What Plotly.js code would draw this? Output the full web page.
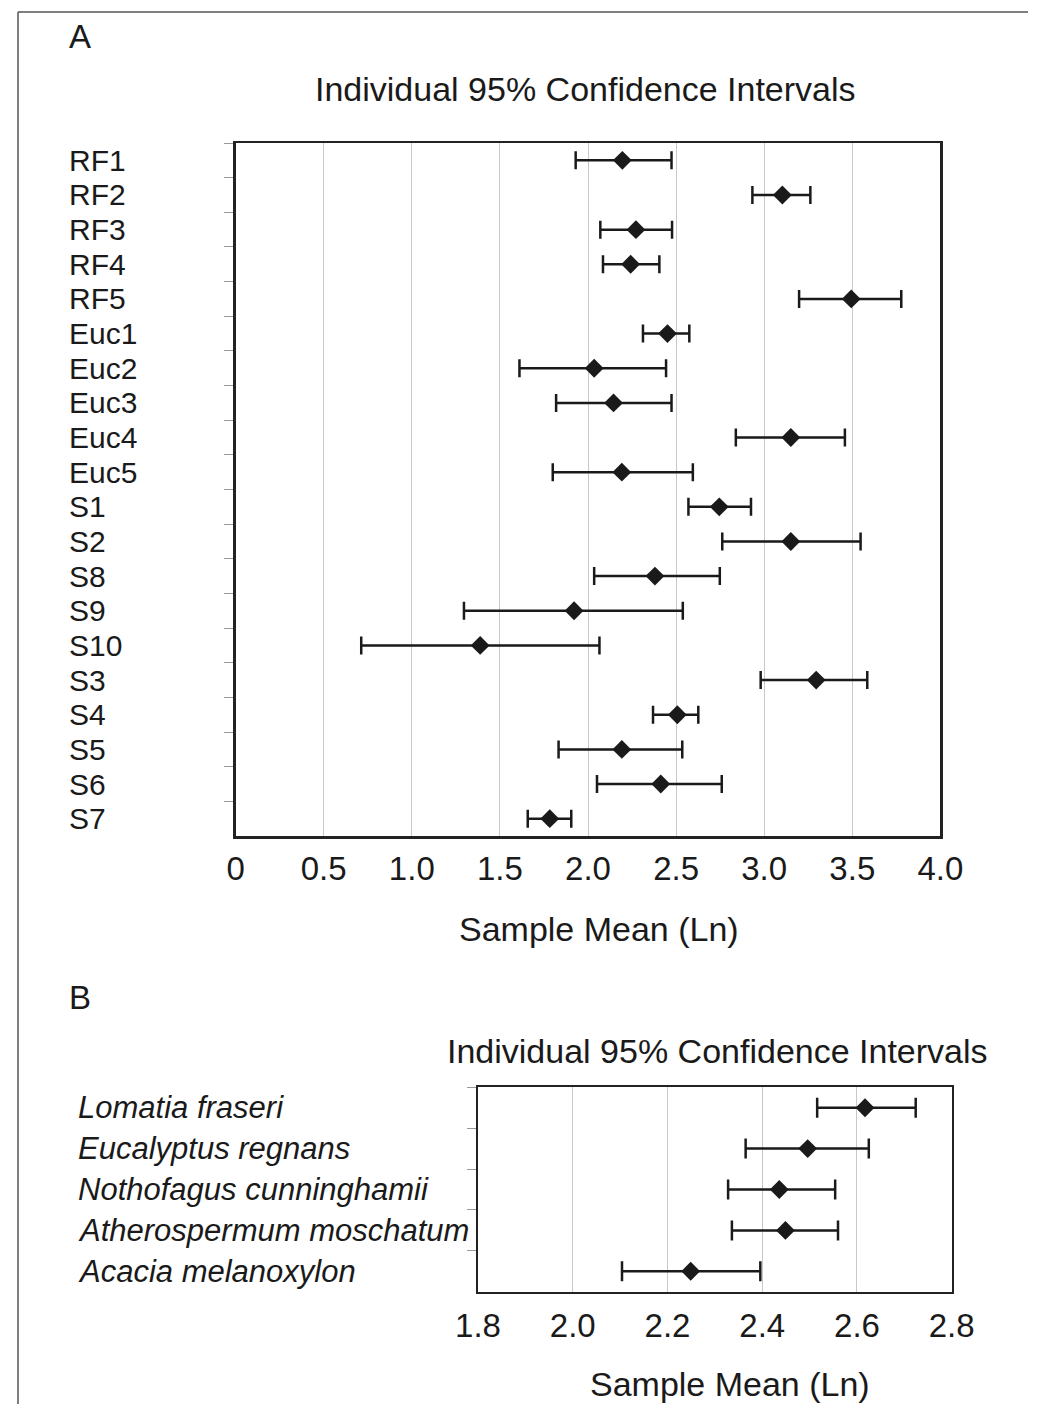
<!DOCTYPE html>
<html>
<head>
<meta charset="utf-8">
<script src="https://cdn.plot.ly/plotly-3.0.1.min.js"></script>
<style>html,body{margin:0;padding:0;background:#fff;}#chart{width:1041px;height:1404px;}</style>
</head>
<body>
<div id="chart"></div>
<script>
// Panel A data
const sitesA = ["RF1","RF2","RF3","RF4","RF5","Euc1","Euc2","Euc3","Euc4","Euc5","S1","S2","S8","S9","S10","S3","S4","S5","S6","S7"];
const lowerA = [1.930,2.933,2.070,2.085,3.198,2.312,1.611,1.819,2.839,1.800,2.570,2.762,2.035,1.296,0.713,2.980,2.369,1.833,2.051,1.658];
const meanA  = [2.195,3.103,2.272,2.242,3.494,2.451,2.035,2.145,3.151,2.192,2.745,3.151,2.380,1.921,1.388,3.295,2.507,2.192,2.413,1.783];
const upperA = [2.474,3.262,2.477,2.405,3.778,2.575,2.443,2.474,3.458,2.595,2.925,3.547,2.748,2.538,2.065,3.585,2.626,2.535,2.759,1.905];
const ticksA = [0,0.5,1.0,1.5,2.0,2.5,3.0,3.5,4.0];
const tickTextA = ["0","0.5","1.0","1.5","2.0","2.5","3.0","3.5","4.0"];

// Panel B data
const speciesB = ["Lomatia fraseri","Eucalyptus regnans","Nothofagus cunninghamii","Atherospermum moschatum","Acacia melanoxylon"];
const lowerB = [2.516,2.365,2.328,2.336,2.104];
const meanB  = [2.617,2.496,2.436,2.449,2.249];
const upperB = [2.724,2.625,2.554,2.560,2.396];
const ticksB = [1.8,2.0,2.2,2.4,2.6,2.8];
const tickTextB = ["1.8","2.0","2.2","2.4","2.6","2.8"];

const titleText = "Individual 95% Confidence Intervals";
const xTitle = "Sample Mean (Ln)";

const W = 1041, H = 1404;
const px = v => v / W;
const py = v => 1 - v / H;
const ink = "#1a1a1a";
const FONT = "Liberation Sans, Arial, Helvetica, sans-serif";

const traceA = {
  type: "scatter", mode: "markers",
  x: meanA, y: sitesA, xaxis: "x", yaxis: "y",
  marker: {symbol: "diamond", size: 14.5, color: ink},
  error_x: {type: "data", symmetric: false,
    array: upperA.map((u,i)=>u-meanA[i]),
    arrayminus: meanA.map((m,i)=>m-lowerA[i]),
    color: ink, thickness: 2.5, width: 9},
  hoverinfo: "x+y", showlegend: false
};
const traceB = {
  type: "scatter", mode: "markers",
  x: meanB, y: speciesB, xaxis: "x2", yaxis: "y2",
  marker: {symbol: "diamond", size: 14.5, color: ink},
  error_x: {type: "data", symmetric: false,
    array: upperB.map((u,i)=>u-meanB[i]),
    arrayminus: meanB.map((m,i)=>m-lowerB[i]),
    color: ink, thickness: 2.5, width: 10},
  hoverinfo: "x+y", showlegend: false
};

const annotations = [];
sitesA.forEach((s,i)=>annotations.push({
  text: s, xref: "paper", yref: "y", x: px(67), y: i, xanchor: "left", yanchor: "middle",
  showarrow: false, font: {size: 30, color: ink, family: FONT}
}));
speciesB.forEach((s,i)=>annotations.push({
  text: "<i>" + s + "</i>", xref: "paper", yref: "y2", x: px(76), y: i, xanchor: "left", yanchor: "middle",
  showarrow: false, font: {size: 31, color: ink, family: FONT}
}));
const addText = (t, x, y, size, anchor) => annotations.push({
  text: t, xref: "paper", yref: "paper", x: px(x), y: py(y), xanchor: anchor || "center", yanchor: "middle",
  showarrow: false, font: {size: size, color: ink, family: FONT}
});
addText("A", 67, 36, 33, "left");
addText("B", 67, 998, 33, "left");
addText(titleText, 585.5, 89, 34);
addText(titleText, 717.5, 1051, 34);
addText(xTitle, 599, 929, 34);
addText(xTitle, 729.5, 1384, 34);

const xCommon = {
  showgrid: true, gridcolor: "#c8c8c8", gridwidth: 1,
  showline: true, linecolor: "#222", linewidth: 2.5, mirror: true,
  ticks: "", zeroline: false, tickmode: "array",
  tickfont: {size: 33, color: ink, family: FONT}
};
const yCommon = {
  type: "category", tickson: "boundaries", ticks: "outside", ticklen: 9, tickwidth: 1, tickcolor: "#999",
  showticklabels: false, showgrid: false, zeroline: false,
  showline: true, linecolor: "#222", linewidth: 2.5, mirror: true
};

const layout = {
  width: W, height: H,
  margin: {l: 0, r: 0, t: 0, b: 0},
  paper_bgcolor: "#fff", plot_bgcolor: "#fff",
  font: {family: FONT, color: ink},
  xaxis: Object.assign({}, xCommon, {
    domain: [px(235.6), px(940.4)], range: [0, 4.0],
    tickvals: ticksA, ticktext: tickTextA, anchor: "y", ticklabelstandoff: 2
  }),
  yaxis: Object.assign({}, yCommon, {
    domain: [py(836), py(143)], categoryorder: "array", categoryarray: sitesA,
    range: [sitesA.length - 0.5, -0.5], anchor: "x"
  }),
  xaxis2: Object.assign({}, xCommon, {
    domain: [px(478), px(951.7)], range: [1.8, 2.8],
    tickvals: ticksB, ticktext: tickTextB, anchor: "y2", ticklabelstandoff: 3
  }),
  yaxis2: Object.assign({}, yCommon, {
    domain: [py(1291.7), py(1087.3)], categoryorder: "array", categoryarray: speciesB,
    range: [speciesB.length - 0.5, -0.5], anchor: "x2"
  }),
  annotations: annotations,
  shapes: [
    {type: "line", xref: "paper", yref: "paper", x0: px(18), x1: px(18), y0: py(12), y1: 0, line: {color: "#555", width: 1.5}},
    {type: "line", xref: "paper", yref: "paper", x0: px(18), x1: px(1028), y0: py(12), y1: py(12), line: {color: "#555", width: 1.5}}
  ]
};

Plotly.newPlot("chart", [traceA, traceB], layout, {displayModeBar: false, staticPlot: true});
</script>
</body>
</html>
